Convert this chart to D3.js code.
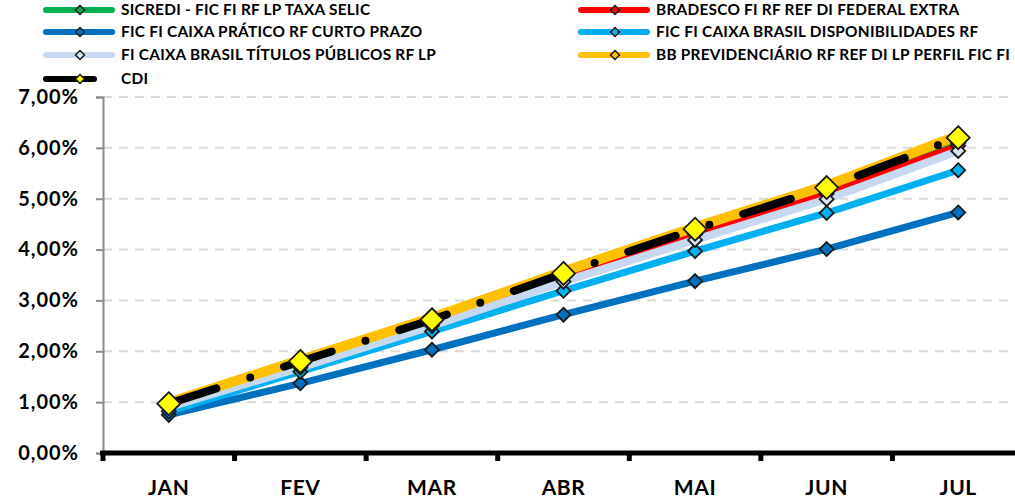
<!DOCTYPE html>
<html><head><meta charset="utf-8">
<script src="https://cdn.jsdelivr.net/npm/d3@7"></script>
<style>body{margin:0;background:#fff}svg{display:block}text{font-family:Lato,"Open Sans",sans-serif;font-weight:bold;fill:#000}</style>
</head><body><svg id="c" width="1015" height="498"></svg>
<script>
const months = ["JAN","FEV","MAR","ABR","MAI","JUN","JUL"];
const yTicks = [0,1,2,3,4,5,6,7];
const seriesNames = [
  "SICREDI - FIC FI RF LP TAXA SELIC",
  "BRADESCO FI RF REF DI FEDERAL EXTRA",
  "FIC FI CAIXA PRÁTICO RF CURTO PRAZO",
  "FIC FI CAIXA BRASIL DISPONIBILIDADES RF",
  "FI CAIXA BRASIL TÍTULOS PÚBLICOS RF LP",
  "BB PREVIDENCIÁRIO RF REF DI LP PERFIL FIC FI",
  "CDI"
];
const sicredi   = [0.96, 1.77, 2.58, 3.48, 4.33, 5.13, 6.09];
const bradesco  = [0.95, 1.75, 2.56, 3.45, 4.30, 5.10, 6.04];
const pratico   = [0.75, 1.37, 2.03, 2.72, 3.38, 4.01, 4.73];
const disponib  = [0.82, 1.60, 2.39, 3.19, 3.97, 4.72, 5.56];
const titulos   = [0.90, 1.68, 2.50, 3.37, 4.19, 4.99, 5.94];
const bbprev    = [0.99, 1.83, 2.66, 3.57, 4.44, 5.26, 6.24];
const cdi       = [0.97, 1.80, 2.62, 3.53, 4.40, 5.22, 6.20];

const styles = [
  {color:"#00B050", fill:"#00B050", w:7},
  {color:"#FF0000", fill:"#FF0000", w:7},
  {color:"#0070C0", fill:"#0070C0", w:7},
  {color:"#00B0F0", fill:"#00B0F0", w:7},
  {color:"#C6D9F1", fill:"#DCE6F2", w:8},
  {color:"#FFC000", fill:"#FFC000", w:10},
  {color:"#000000", fill:"#FFFF00", w:8, dash:"50 35.5 0 35.5", big:true}
];
const values = [sicredi,bradesco,pratico,disponib,titulos,bbprev,cdi];

const svg = d3.select("#c");
const x = d3.scaleBand().domain(months).range([103, 1024]);
const y = d3.scaleLinear().domain([0,7]).range([453, 97]);
const xc = m => x(m) + x.bandwidth()/2;
const fmt = v => v.toFixed(2).replace(".", ",") + "%";

// gridlines
svg.append("g").selectAll("line").data(yTicks.filter(t=>t>0)).join("line")
  .attr("x1",103).attr("x2",1015).attr("y1",d=>y(d)).attr("y2",d=>y(d))
  .attr("stroke","#D9D9D9").attr("stroke-width",2).attr("stroke-dasharray","9 7");

// y axis
const ya = svg.append("g").attr("transform","translate(103,0)")
  .call(d3.axisLeft(y).tickValues(yTicks).tickFormat(fmt).tickSize(7).tickPadding(17));
ya.select(".domain").attr("stroke","#8C8C8C").attr("stroke-width",2);
ya.selectAll(".tick line").attr("stroke","#8C8C8C").attr("stroke-width",2);
ya.selectAll(".tick text").attr("font-size",20).attr("letter-spacing","1px").attr("font-family","Lato").attr("font-weight","bold").attr("fill","#000");

// x axis
const xa = svg.append("g").attr("transform","translate(0,453)")
  .call(d3.axisBottom(x).tickSize(0).tickPadding(27));
xa.select(".domain").remove();
xa.selectAll(".tick text").attr("font-size",21).attr("letter-spacing","0.6px").attr("font-family","Lato").attr("font-weight","bold").attr("fill","#000");
svg.append("line").attr("x1",100).attr("x2",1015).attr("y1",453).attr("y2",453)
  .attr("stroke","#000").attr("stroke-width",5);
const bounds = months.map(m=>x(m)).concat([x(months[6])+x.bandwidth()]);
svg.append("g").selectAll("line").data(bounds).join("line")
  .attr("x1",d=>d).attr("x2",d=>d).attr("y1",453).attr("y2",461)
  .attr("stroke","#000").attr("stroke-width",5);

// lines
const line = d3.line().x((d,i)=>xc(months[i])).y(d=>y(d));
values.forEach((vals,k)=>{
  const s = styles[k];
  svg.append("path").datum(vals).attr("d",line).attr("fill","none")
    .attr("stroke",s.color).attr("stroke-width",s.w)
    .attr("stroke-linecap", s.dash ? "round" : "butt")
    .attr("stroke-linejoin","round")
    .attr("stroke-dasharray", s.dash || null);
});
// markers
const diamond = (cx,cy,r) => `M${cx},${cy-r}L${cx+r},${cy}L${cx},${cy+r}L${cx-r},${cy}Z`;
values.forEach((vals,k)=>{
  const s = styles[k];
  const r = s.big ? 11.5 : 7;
  svg.append("g").selectAll("path").data(vals).join("path")
    .attr("d",(d,i)=>diamond(xc(months[i]), y(d), r))
    .attr("fill",s.fill).attr("stroke","#1a1a1a").attr("stroke-width",1.8);
});

// legend
const legPos = [
  {x:43, y:10},{x:578, y:10},
  {x:43, y:32},{x:578, y:32},
  {x:43, y:55},{x:578, y:55},
  {x:43, y:79}
];
seriesNames.forEach((name,k)=>{
  const s = styles[k], p = legPos[k];
  const g = svg.append("g");
  const len = 72;
  g.append("line").attr("x1",p.x+3).attr("x2",p.x+len-3).attr("y1",p.y).attr("y2",p.y)
    .attr("stroke",s.color).attr("stroke-width",6).attr("stroke-linecap","round")
    .attr("stroke-dasharray", s.dash ? "48 200" : null);
  g.append("path").attr("d",diamond(p.x+len/2+1,p.y,4.5))
    .attr("fill",s.fill).attr("stroke","#1a1a1a").attr("stroke-width",1.5);
  g.append("text").attr("x",p.x+78).attr("y",p.y).attr("dy","0.35em")
    .attr("font-size",15.4).attr("letter-spacing","0.25px").text(name);
});
</script></body></html>
